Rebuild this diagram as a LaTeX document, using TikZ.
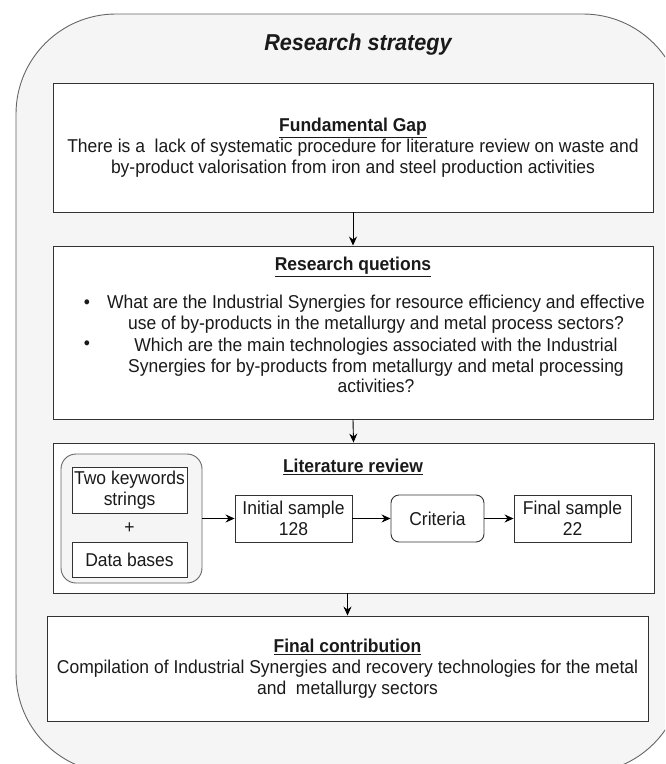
\documentclass[tikz,border=0pt]{standalone}
\usepackage{fontspec}
\setmainfont{Liberation Sans}[FakeStretch=0.94]
\usetikzlibrary{arrows.meta}
\definecolor{outerfill}{HTML}{F5F5F5}
\definecolor{outerline}{HTML}{666666}
\definecolor{boxline}{HTML}{333333}
\definecolor{txt}{HTML}{1A1A1A}
\begin{document}
\begin{tikzpicture}[x=1pt,y=-1pt,
  every node/.style={font=\fontsize{18.6}{20.7}\selectfont, text=txt},
  stagebox/.style={draw=boxline, fill=white, line width=0.9pt, inner sep=0pt, align=center},
  smallbox/.style={draw=boxline, fill=white, line width=0.9pt, inner sep=0pt, align=center},
  plain/.style={inner sep=0pt, align=center},
  flow/.style={draw=black, line width=0.9pt, -{Stealth[length=9pt,width=8pt,inset=3pt]}}
]
\useasboundingbox (0,0) rectangle (665,764);
\begin{scope}
\clip (0,0) rectangle (665,764);
\draw[fill=outerfill, draw=outerline, line width=0.9pt, rounded corners=100pt] (16,14) rectangle (683,773);
\end{scope}

\node[plain, font=\fontsize{23}{27}\selectfont\bfseries\itshape] (title) at (358,45) {Research strategy};

% Box 1
\node[stagebox, minimum width=600pt, minimum height=129pt] (gap) at (353,147.5)
  {\underline{\textbf{Fundamental Gap}}\\
   There is a\ \ lack of systematic procedure for literature review on waste and\\
   by-product valorisation from iron and steel production activities};

% Box 2
\node[stagebox, minimum width=600pt, minimum height=173pt] (rq) at (353,332.5) {};
\node[plain] (rqtitle) at (353,267) {\underline{\textbf{Research quetions}}};
\node[plain] (b1) at (87,304) {•};
\node[plain] (q1) at (376,314.5) {What are the Industrial Synergies for resource efficiency and effective\\use of by-products in the metallurgy and metal process sectors?};
\node[plain] (b2) at (87,345) {•};
\node[plain] (q2) at (376,365.5) {Which are the main technologies associated with the Industrial\\Synergies for by-products from metallurgy and metal processing\\activities?};

% Box 3
\node[stagebox, minimum width=601pt, minimum height=150pt] (lr) at (353.5,518) {};
\node[plain] (lrtitle) at (353,467) {\underline{\textbf{Literature review}}};
\node[draw=outerline, fill=outerfill, line width=0.9pt, rounded corners=15pt, minimum width=141pt, minimum height=129pt, inner sep=0pt] (grp) at (131.5,518.5) {};
\node[smallbox, minimum width=115pt, minimum height=46pt] (kw) at (129.5,490) {Two keywords\\strings};
\node[plain] (plus) at (129.5,528) {+};
\node[smallbox, minimum width=115pt, minimum height=35pt] (db) at (129.5,559.5) {Data bases};
\node[smallbox, minimum width=117pt, minimum height=47pt] (init) at (293.5,518.5) {Initial sample\\128};
\node[smallbox, rounded corners=8pt, minimum width=93pt, minimum height=47pt] (crit) at (437.5,518.5) {Criteria};
\node[smallbox, minimum width=117pt, minimum height=47pt] (fin) at (572.5,518.5) {Final sample\\22};

% Box 4
\node[stagebox, minimum width=601pt, minimum height=105pt] (fc) at (347.5,668.5)
  {\underline{\textbf{Final contribution}}\\
   Compilation of Industrial Synergies and recovery technologies for the metal\\
   and\ \ metallurgy sectors};

% Connectors
\draw[flow] (gap.south) -- (rq.north);
\draw[flow] (rq.south) -- (lr.north);
\draw[flow] (lr.south -| fc.north) -- (fc.north);
\draw[flow] (grp.east) -- (init.west);
\draw[flow] (init.east) -- (crit.west);
\draw[flow] (crit.east) -- (fin.west);
\end{tikzpicture}
\end{document}
